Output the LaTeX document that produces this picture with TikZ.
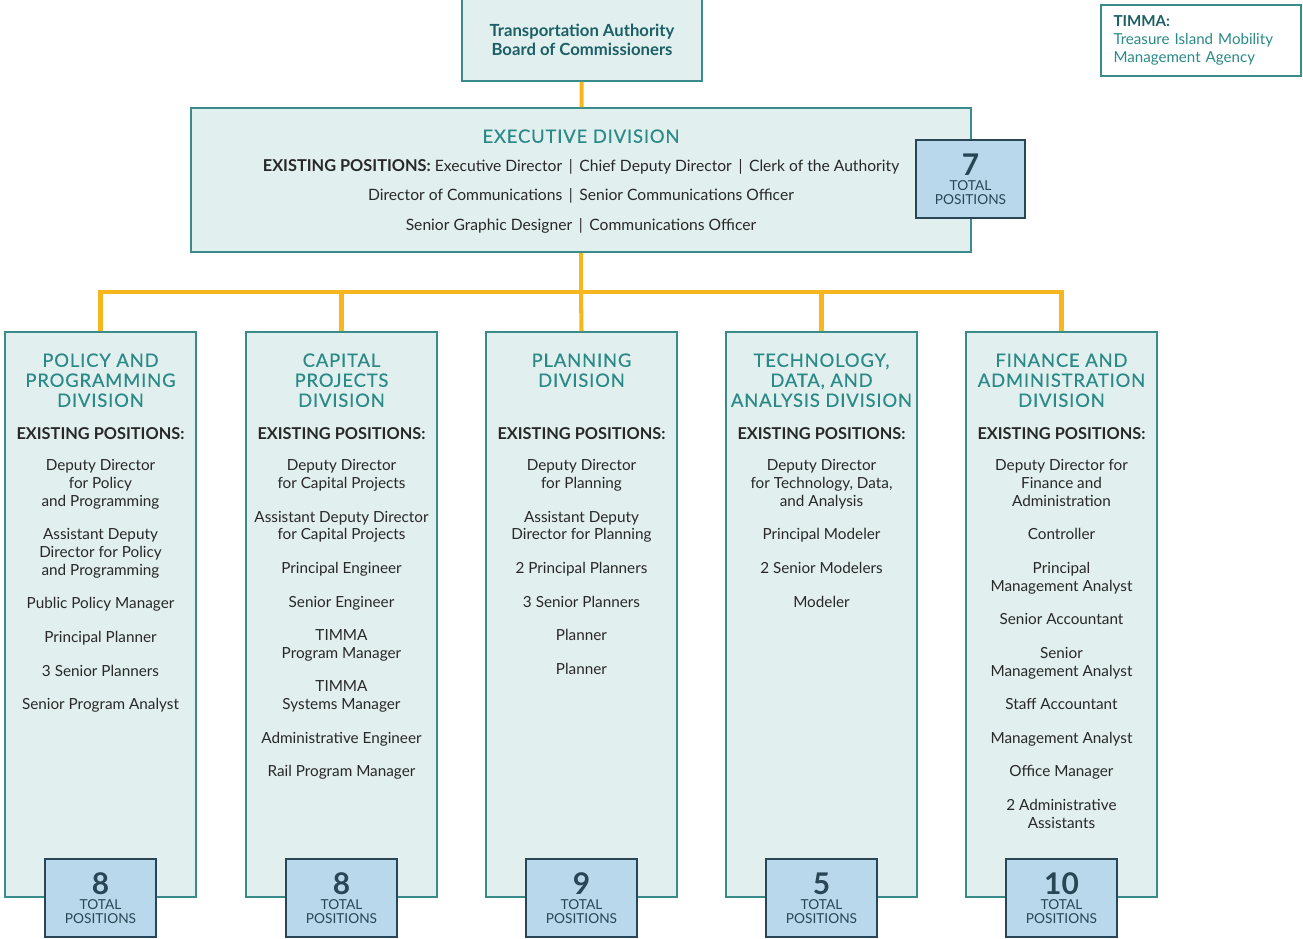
\documentclass[tikz,border=0pt]{standalone}
\usepackage{fontspec}
\setmainfont{Lato}
\newfontfamily\titlefont[LetterSpace=4.5, FakeBold=0.3]{Lato}
\usepackage{tikz}
\usetikzlibrary{positioning, calc}

\definecolor{tealline}{RGB}{58,140,138}
\definecolor{tealfill}{RGB}{225,239,238}
\definecolor{tealtext}{RGB}{42,138,135}
\definecolor{darkteal}{RGB}{28,96,102}
\definecolor{bodytext}{RGB}{40,40,40}
\definecolor{totalfill}{RGB}{186,216,235}
\definecolor{totalline}{RGB}{40,70,85}
\definecolor{linkorange}{RGB}{247,181,30}

\newcommand{\posgap}{9pt}
\newcommand{\totalnum}[1]{{\fontsize{17}{17}\selectfont\bfseries #1}\\[1.3pt]TOTAL\\POSITIONS}

\tikzset{
  divbox/.style={rectangle, draw=tealline, line width=1.1pt, fill=tealfill,
                 minimum width=3.82cm, minimum height=11.3cm},
  totalbox/.style={rectangle, draw=totalline, line width=0.9pt, fill=totalfill,
                   minimum width=2.22cm, minimum height=1.56cm, align=center,
                   inner sep=0pt, text=totalline, font=\fontsize{7.8}{7.6}\selectfont},
  divtitle/.style={font=\titlefont\fontsize{10.5}{11.4}\selectfont, text=tealtext,
                   align=center, inner sep=0pt},
  posthead/.style={font=\bfseries\fontsize{9.3}{11}\selectfont, text=bodytext, inner sep=0pt},
  poslist/.style={font=\fontsize{8.7}{10.1}\selectfont, text=bodytext, align=center, inner sep=0pt},
  link/.style={draw=linkorange, line width=2.3pt},
}

\begin{document}
\begin{tikzpicture}[x=0.02cm, y=-0.02cm]
\useasboundingbox (0,0) rectangle (1303,939);

% ── 董事会 / TIMMA ──
\node[rectangle, draw=tealline, line width=1.1pt, fill=tealfill, minimum width=4.8cm,
      minimum height=1.64cm, align=center, text=darkteal,
      font=\bfseries\fontsize{9.5}{10.6}\selectfont] (board) at (582,40)
  {Transportation Authority\\Board of Commissioners};

\node[rectangle, draw=tealline, line width=1.1pt, fill=white, minimum width=4cm,
      minimum height=1.42cm, align=left, text width=3.5cm, text=tealtext,
      font=\fontsize{8.6}{10.2}\selectfont] (timma) at (1201,40.5)
  {\textcolor{darkteal}{\bfseries TIMMA:}\\Treasure Island Mobility\\Management Agency};

% ── Executive ──
\node[divbox, minimum width=15.6cm, minimum height=2.88cm] (exec) at (581,180) {};
\node[divtitle, below=0.44cm of exec.north] (exectitle) {EXECUTIVE DIVISION};
\node[poslist, font=\fontsize{8.9}{16.9}\selectfont, below=0.31cm of exectitle] (execlist)
  {\textbf{\fontsize{9.3}{16.9}\selectfont EXISTING POSITIONS:} Executive Director \,|\, Chief Deputy Director \,|\, Clerk of the Authority\\
   Director of Communications \,|\, Senior Communications Officer\\
   Senior Graphic Designer \,|\, Communications Officer};
\node[totalbox, minimum width=2.18cm] (exectotal) at (970.5,179) {\totalnum{7}};

% ── Divisions ──
\node[divbox] (policy) at (100.5,614.5) {};
\node[divbox] (capital) at (341.5,614.5) {};
\node[divbox] (planning) at (581.5,614.5) {};
\node[divbox] (tech) at (821.5,614.5) {};
\node[divbox] (finance) at (1061.5,614.5) {};

\node[divtitle, below=0.44cm of policy.north] (policytitle) {POLICY AND\\PROGRAMMING\\DIVISION};
\node[divtitle, below=0.44cm of capital.north] (capitaltitle) {CAPITAL\\PROJECTS\\DIVISION};
\node[divtitle, below=0.44cm of planning.north] (planningtitle) {PLANNING\\DIVISION};
\node[divtitle, below=0.44cm of tech.north] (techtitle) {TECHNOLOGY,\\DATA, AND\\ANALYSIS DIVISION};
\node[divtitle, below=0.44cm of finance.north] (financetitle) {FINANCE AND\\ADMINISTRATION\\DIVISION};

\node[posthead, below=1.93cm of policy.north] (policyhead) {EXISTING POSITIONS:};
\node[posthead, below=1.93cm of capital.north] (capitalhead) {EXISTING POSITIONS:};
\node[posthead, below=1.93cm of planning.north] (planninghead) {EXISTING POSITIONS:};
\node[posthead, below=1.93cm of tech.north] (techhead) {EXISTING POSITIONS:};
\node[posthead, below=1.93cm of finance.north] (financehead) {EXISTING POSITIONS:};

\node[poslist, below=0.38cm of policyhead] (policylist)
  {Deputy Director\\for Policy\\and Programming\\[\posgap]
   Assistant Deputy\\Director for Policy\\and Programming\\[\posgap]
   Public Policy Manager\\[\posgap]
   Principal Planner\\[\posgap]
   3 Senior Planners\\[\posgap]
   Senior Program Analyst};
\node[poslist, below=0.38cm of capitalhead] (capitallist)
  {Deputy Director\\for Capital Projects\\[\posgap]
   Assistant Deputy Director\\for Capital Projects\\[\posgap]
   Principal Engineer\\[\posgap]
   Senior Engineer\\[\posgap]
   TIMMA\\Program Manager\\[\posgap]
   TIMMA\\Systems Manager\\[\posgap]
   Administrative Engineer\\[\posgap]
   Rail Program Manager};
\node[poslist, below=0.38cm of planninghead] (planninglist)
  {Deputy Director\\for Planning\\[\posgap]
   Assistant Deputy\\Director for Planning\\[\posgap]
   2 Principal Planners\\[\posgap]
   3 Senior Planners\\[\posgap]
   Planner\\[\posgap]
   Planner};
\node[poslist, below=0.38cm of techhead] (techlist)
  {Deputy Director\\for Technology, Data,\\and Analysis\\[\posgap]
   Principal Modeler\\[\posgap]
   2 Senior Modelers\\[\posgap]
   Modeler};
\node[poslist, below=0.38cm of financehead] (financelist)
  {Deputy Director for\\Finance and\\Administration\\[\posgap]
   Controller\\[\posgap]
   Principal\\Management Analyst\\[\posgap]
   Senior Accountant\\[\posgap]
   Senior\\Management Analyst\\[\posgap]
   Staff Accountant\\[\posgap]
   Management Analyst\\[\posgap]
   Office Manager\\[\posgap]
   2 Administrative\\Assistants};

\node[totalbox] (policytotal) at (policy.south) {\totalnum{8}};
\node[totalbox] (capitaltotal) at (capital.south) {\totalnum{8}};
\node[totalbox] (planningtotal) at (planning.south) {\totalnum{9}};
\node[totalbox] (techtotal) at (tech.south) {\totalnum{5}};
\node[totalbox] (financetotal) at (finance.south) {\totalnum{10}};

% ── 连接线 ──
\coordinate (bus) at (581,292);
\draw[link] (board) -- (exec);
\draw[link] (exec.south) -- (bus);
\draw[link] (bus) -| (policy.north);
\draw[link] (bus) -| (capital.north);
\draw[link] (bus) -- (planning.north);
\draw[link] (bus) -| (tech.north);
\draw[link] (bus) -| (finance.north);

\end{tikzpicture}
\end{document}
